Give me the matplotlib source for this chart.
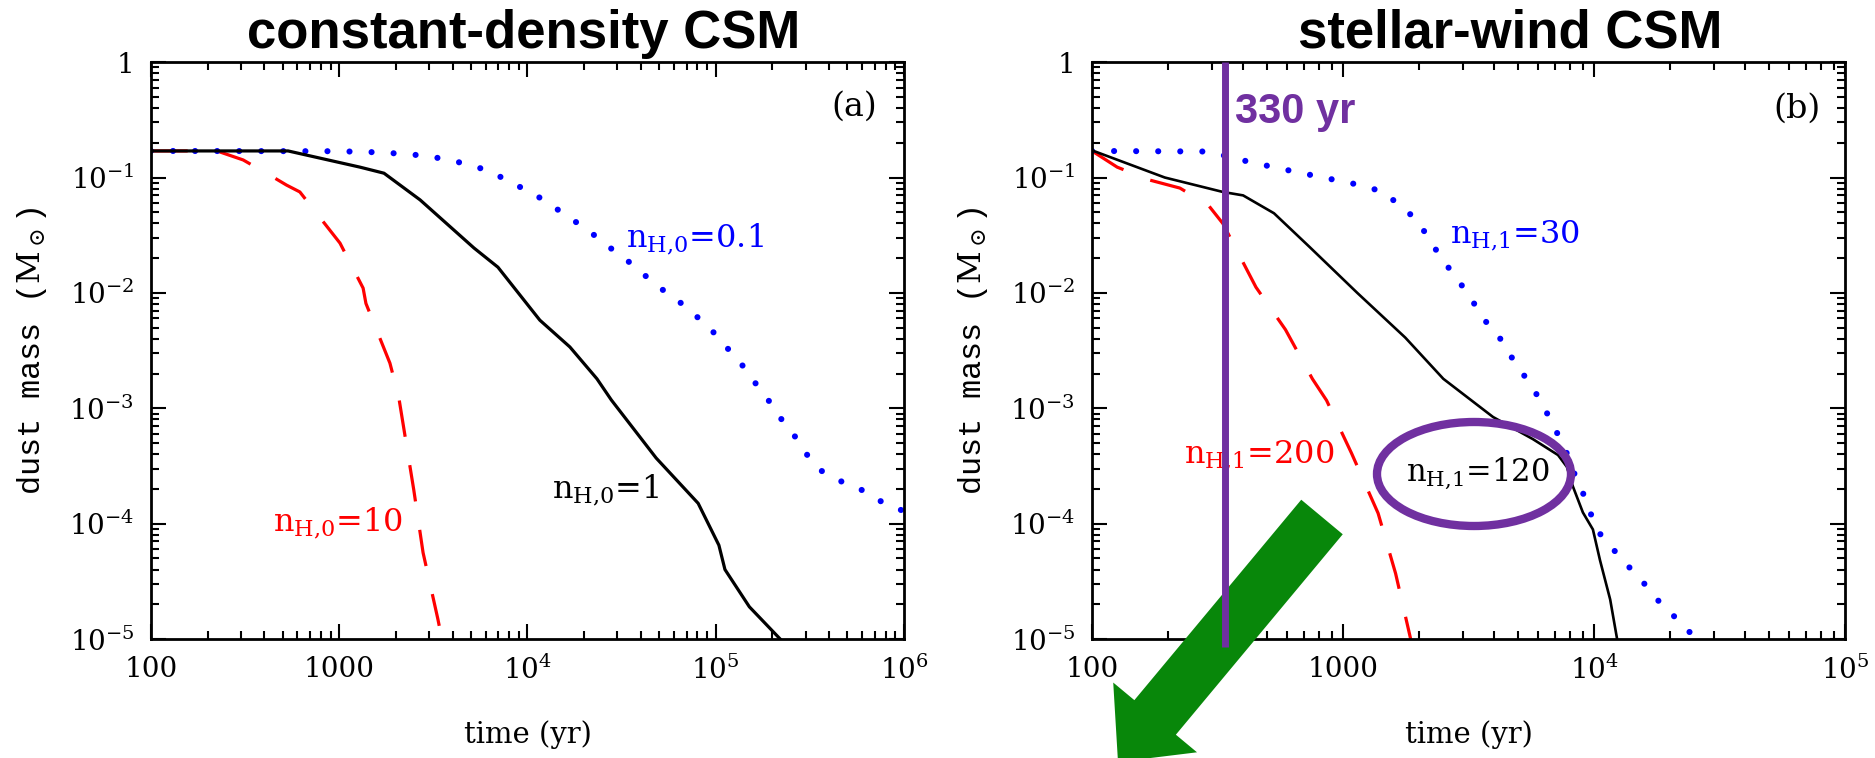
import numpy as np
import matplotlib.pyplot as plt
from matplotlib.patches import Ellipse, FancyArrow
from matplotlib.ticker import LogLocator, NullFormatter
import matplotlib.transforms as mtransforms

plt.rcParams['font.family'] = 'DejaVu Serif'
plt.rcParams['mathtext.fontset'] = 'dejavuserif'

# ---- panel (a): constant-density CSM ----
t_a_n1 = [100, 535, 1290, 1730, 2690, 5200, 6970, 11640, 16800, 23400, 27900,
          48300, 80700, 1.04e5, 1.12e5, 1.51e5, 2.2e5]
m_a_n1 = [0.17, 0.17, 0.123, 0.109, 0.064, 0.0245, 0.0167, 0.0058, 0.0034, 0.0018,
          0.00118, 3.7e-4, 1.5e-4, 6.5e-5, 4.0e-5, 1.9e-5, 1.0e-5]

t_a_n10 = [100, 224, 309, 445, 525, 618, 1010, 1340, 1387, 1860, 2070, 2490, 2790, 3340, 3400]
m_a_n10 = [0.17, 0.17, 0.142, 0.101, 0.086, 0.075, 0.027, 0.011, 0.0081, 0.00246,
           0.00126, 1.96e-4, 5.6e-5, 1.5e-5, 1.3e-5]

t_a_n01 = [100, 1000, 1700, 2690, 3720, 5000, 6450, 8070, 10400, 12900, 16800, 21000,
           26200, 32200, 40000, 50000, 62400, 77900, 93600, 1.12e5, 1.35e5, 1.56e5,
           1.87e5, 2.2e5, 2.6e5, 3.0e5, 3.6e5, 4.7e5, 6.0e5, 7.6e5, 1e6]
m_a_n01 = [0.17, 0.169, 0.165, 0.156, 0.144, 0.128, 0.112, 0.091, 0.075, 0.060, 0.0446,
           0.035, 0.026, 0.0205, 0.0152, 0.0112, 0.0087, 0.0064, 0.0049, 0.0035, 0.0025,
           0.0018, 0.00123, 8.3e-4, 5.9e-4, 4.1e-4, 2.9e-4, 2.3e-4, 1.95e-4, 1.55e-4, 1.28e-4]

# ---- panel (b): stellar-wind CSM ----
t_b_n120 = [100, 195, 332, 400, 531, 736, 1140, 1770, 2510, 3960, 5710, 7190, 7800,
            8240, 9030, 9900, 10570, 11600, 12360]
m_b_n120 = [0.172, 0.1, 0.075, 0.070, 0.049, 0.025, 0.010, 0.0041, 0.0018, 8.4e-4,
            5.4e-4, 3.93e-4, 3.1e-4, 2.1e-4, 1.25e-4, 8.9e-5, 4.8e-5, 2.2e-5, 1.0e-5]

t_b_n200 = [100, 126, 170, 224, 290, 332, 450, 590, 755, 860, 1080, 1380, 1620, 1860]
m_b_n200 = [0.17, 0.123, 0.095, 0.081, 0.058, 0.040, 0.0112, 0.0048, 0.0018, 0.00117,
            4.1e-4, 1.23e-4, 3.7e-5, 1.0e-5]

t_b_n30 = [100, 290, 427, 660, 1170, 1450, 1970, 2450, 2810, 3220, 3580, 4100, 4580,
           5120, 5710, 6380, 7000, 7660, 8240, 8950, 9630, 10400, 12000, 13800, 15900,
           18200, 21000, 24500]
m_b_n30 = [0.17, 0.168, 0.136, 0.111, 0.086, 0.075, 0.043, 0.0204, 0.0137, 0.0092,
           0.0061, 0.0045, 0.003, 0.0021, 0.0015, 9.8e-4, 6.6e-4, 4.5e-4, 2.9e-4, 1.95e-4,
           1.27e-4, 8.5e-5, 5.9e-5, 4.2e-5, 3.0e-5, 2.1e-5, 1.55e-5, 1.1e-5]

t_marker = 340  # "330 yr" line

yticks = [1, 1e-1, 1e-2, 1e-3, 1e-4, 1e-5]
ylabels = ['1', r'$10^{-1}$', r'$10^{-2}$', r'$10^{-3}$', r'$10^{-4}$', r'$10^{-5}$']
xticks_a = [100, 1000, 1e4, 1e5, 1e6]
xlabels_a = ['100', '1000', r'$10^4$', r'$10^5$', r'$10^6$']
xticks_b = [100, 1000, 1e4, 1e5]
xlabels_b = ['100', '1000', r'$10^4$', r'$10^5$']

dotted = (0, (0.01, 3.6))
dashed = (0, (11.5, 9))

fig = plt.figure(figsize=(18.75, 7.58), dpi=100)
ax1 = fig.add_axes([0.0805, 0.157, 0.4016, 0.761])
ax2 = fig.add_axes([0.5824, 0.157, 0.4016, 0.761])


def style_axes(ax, xlim, xticks, xlabels):
    ax.set_xscale('log')
    ax.set_yscale('log')
    ax.set_xlim(*xlim)
    ax.set_ylim(1e-5, 1)
    ax.set_xticks(xticks, xlabels)
    ax.set_yticks(yticks, ylabels)
    ax.xaxis.set_minor_locator(LogLocator(subs=np.arange(2, 10)))
    ax.yaxis.set_minor_locator(LogLocator(subs=np.arange(2, 10)))
    ax.xaxis.set_minor_formatter(NullFormatter())
    ax.yaxis.set_minor_formatter(NullFormatter())
    ax.tick_params(which='both', direction='in', top=True, right=True, width=1.5, labelsize=20)
    ax.tick_params(which='major', length=11, pad=12)
    ax.tick_params(which='minor', length=5.5)
    for s in ax.spines.values():
        s.set_linewidth(2)
    ax.set_xlabel('time (yr)', fontsize=21)
    ax.xaxis.set_label_coords(0.5, -0.14)
    ax.set_ylabel(r'dust mass ($\mathrm{M}_\odot$)', fontsize=23, family='Liberation Mono')
    ax.yaxis.set_label_coords(-0.135, 0.5)


def nlabel(sub, val):
    return r'n$_{\mathrm{H{,}%s}}$=%s' % (sub, val)


# panel (a)
ax1.plot(t_a_n10, m_a_n10, color='red', lw=2.3, ls=dashed)
ax1.plot(t_a_n01, m_a_n01, color='blue', lw=4.4, ls=dotted, dash_capstyle='round')
ax1.plot(t_a_n1, m_a_n1, color='black', lw=2.3)
style_axes(ax1, (100, 1e6), xticks_a, xlabels_a)
ax1.text(33400, 0.0249, nlabel('0', '0.1'), color='blue', fontsize=23, va='baseline')
ax1.text(13500, 1.67e-4, nlabel('0', '1'), color='black', fontsize=23, va='baseline')
ax1.text(445, 8.5e-5, nlabel('0', '10'), color='red', fontsize=23, va='baseline')
ax1.text(0.964, 0.922, '(a)', transform=ax1.transAxes, fontsize=24, ha='right', va='center')

# panel (b)
ax2.plot(t_b_n200, m_b_n200, color='red', lw=2.3, ls=dashed)
ax2.plot(t_b_n30, m_b_n30, color='blue', lw=4.4, ls=dotted, dash_capstyle='round')
ax2.plot(t_b_n120, m_b_n120, color='black', lw=1.9)
style_axes(ax2, (100, 1e5), xticks_b, xlabels_b)
ax2.text(2660, 0.027, nlabel('1', '30'), color='blue', fontsize=23, va='baseline')
ax2.text(233, 3.35e-4, nlabel('1', '200'), color='red', fontsize=23, va='baseline')
ax2.text(1780, 2.3e-4, nlabel('1', '120'), color='black', fontsize=22, va='baseline')
ax2.text(0.967, 0.920, '(b)', transform=ax2.transAxes, fontsize=24, ha='right', va='center')

# overlays (positions in inches from the lower-left corner)
inch = fig.dpi_scale_trans
arrow = FancyArrow(13.22, 2.41, -2.04, -2.45, width=0.54, head_width=1.09, head_length=0.58,
                   length_includes_head=True, color='#08870a', lw=0,
                   transform=inch, clip_on=False, zorder=4)
ax2.add_patch(arrow)
ring = Ellipse((14.74, 2.84), 1.94, 1.04, fill=False, ec='#7030a0', lw=6,
               transform=inch, clip_on=False, zorder=5)
ax2.add_patch(ring)
vline_tr = mtransforms.blended_transform_factory(ax2.transData, ax2.transAxes)
ax2.plot([t_marker, t_marker], [1.0, -0.014], color='#7030a0', lw=5,
         transform=vline_tr, clip_on=False, zorder=6, solid_capstyle='butt')

fig.text(0.6587, 0.8377, '330 yr', color='#7030a0', fontsize=30, weight='bold',
         family='Liberation Sans', va='baseline')
fig.text(0.2795, 0.9367, 'constant-density CSM', fontsize=38, weight='bold',
         family='Liberation Sans', ha='center', va='baseline')
fig.text(0.8053, 0.9367, 'stellar-wind CSM', fontsize=38, weight='bold',
         family='Liberation Sans', ha='center', va='baseline')

fig.savefig('out.png', dpi=100)
